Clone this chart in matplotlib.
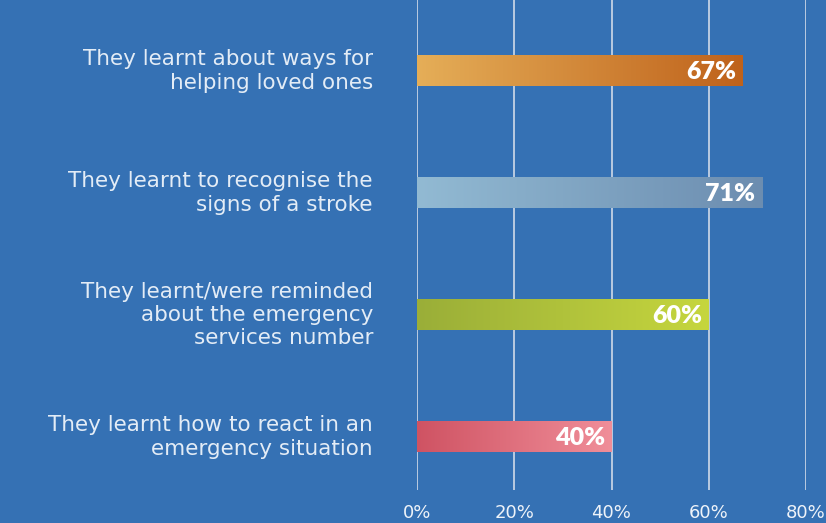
import numpy as np
import matplotlib.pyplot as plt
from matplotlib.colors import LinearSegmentedColormap

# data, top to bottom
labels = ["They learnt about ways for\nhelping loved ones",
          "They learnt to recognise the\nsigns of a stroke",
          "They learnt/were reminded\nabout the emergency\nservices number",
          "They learnt how to react in an\nemergency situation"]
values = [67, 71, 60, 40]
value_text = ["67%", "71%", "60%", "40%"]
ticks = [0, 20, 40, 60, 80]
tick_labels = ["0%", "20%", "40%", "60%", "80%"]

# gradient colours for each bar (left, right)
grads = [("#e5ae58", "#bf621b"),
         ("#92bad3", "#6c8db0"),
         ("#9aae38", "#c6d63e"),
         ("#cf5363", "#f08e99")]

bg = "#3571b4"

fig = plt.figure(figsize=(8.26, 5.23), dpi=100)
fig.patch.set_facecolor(bg)
ax = fig.add_axes([417/826, 33/523, 389/826, 490/523])
ax.set_facecolor(bg)

n = len(values)
ypos = np.arange(n)[::-1]
h = 0.25
ax.set_xlim(0, 80)
ax.set_ylim(-0.434, 3.582)

for x in ticks:
    ax.axvline(x, color="#c4d2e4", lw=1.3, zorder=1)

grad = np.linspace(0, 1, 256).reshape(1, -1)
for i in range(n):
    y = ypos[i]
    cmap = LinearSegmentedColormap.from_list("g%d" % i, grads[i])
    ax.imshow(grad, cmap=cmap, aspect="auto", zorder=2,
              extent=[0, values[i], y - h/2, y + h/2])
    ax.text(values[i] - 1.4, y - 0.01, value_text[i], color="white", fontsize=18,
            fontweight="heavy", family="Lato", ha="right", va="center", zorder=3)
    fig.text(373/826, ax.transData.transform((0, y))[1]/523, labels[i],
             color="#e3ecf6", fontsize=15.5, family="DejaVu Sans", ha="right",
             va="center", linespacing=1.2)

ax.set_xticks(ticks)
ax.set_xticklabels(tick_labels, family="DejaVu Sans")
ax.set_yticks([])
ax.tick_params(axis="x", length=0, pad=10, labelsize=13, labelcolor="#eef3f9")
for s in ax.spines.values():
    s.set_visible(False)

plt.savefig("out.png", facecolor=bg)
